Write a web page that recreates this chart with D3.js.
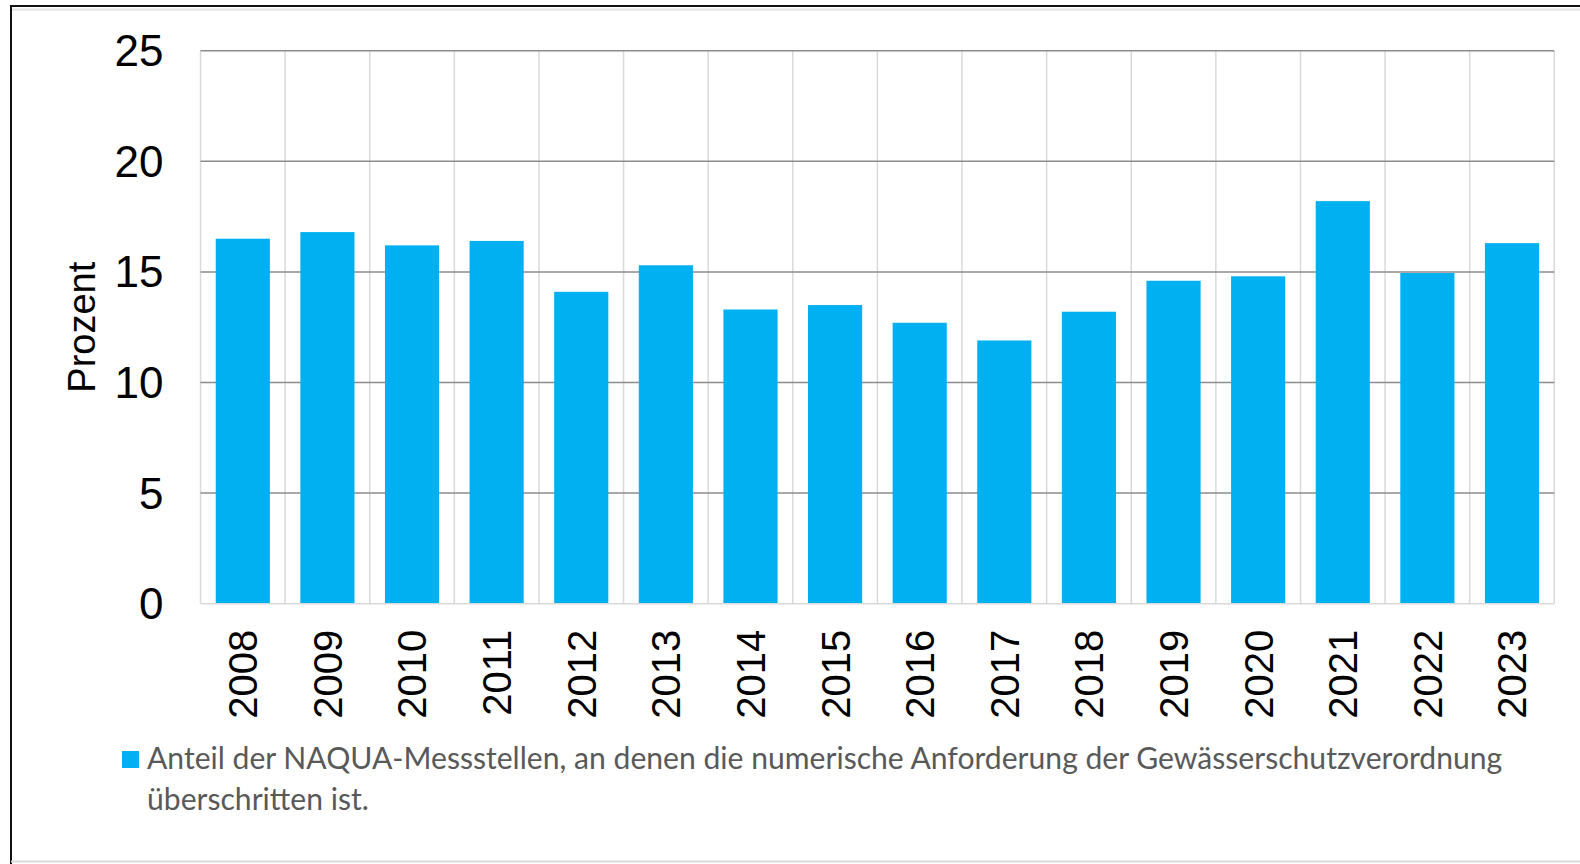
<!DOCTYPE html>
<html>
<head>
<meta charset="utf-8">
<script src="https://cdn.jsdelivr.net/npm/d3@7"></script>
<style>
  body { margin: 0; background: #fff; }
  svg { display: block; }
</style>
</head>
<body>
<svg width="1580" height="864"></svg>
<script>
(function (d3) {
    'use strict';

    // data (percent of NAQUA sites above the limit)
    const years = ['2008', '2009', '2010', '2011', '2012', '2013', '2014', '2015',
                   '2016', '2017', '2018', '2019', '2020', '2021', '2022', '2023'];
    const shares = [16.5, 16.8, 16.2, 16.4, 14.1, 15.3, 13.3, 13.5,
                    12.7, 11.9, 13.2, 14.6, 14.8, 18.2, 14.95, 16.3];
    const yTicks = [0, 5, 10, 15, 20, 25];
    const yAxisTitle = 'Prozent';
    const legendLines = [
        'Anteil der NAQUA-Messstellen, an denen die numerische Anforderung der Gewässerschutzverordnung',
        'überschritten ist.'
    ];

    const svg = d3.select('svg');
    const barColor = '#00b0f0';
    const numFont = '"Liberation Sans", Arial, sans-serif';

    const plot = { left: 200.5, right: 1554.3, top: 50.7, bottom: 603.7 };

    const xScale = d3.scaleBand()
        .domain(years)
        .range([plot.left, plot.right])
        .paddingInner(0.36)
        .paddingOuter(0.18);

    const yScale = d3.scaleLinear()
        .domain([0, 25])
        .range([plot.bottom, plot.top]);

    // screenshot frame
    svg.append('line').attr('x1', 11).attr('x2', 1580).attr('y1', 6).attr('y2', 6)
        .attr('stroke', '#111').attr('stroke-width', 2);
    svg.append('line').attr('x1', 11).attr('x2', 1580).attr('y1', 9.5).attr('y2', 9.5)
        .attr('stroke', '#e2e2e2').attr('stroke-width', 2);
    svg.append('line').attr('x1', 11).attr('x2', 11).attr('y1', 5).attr('y2', 864)
        .attr('stroke', '#111').attr('stroke-width', 2);
    svg.append('line').attr('x1', 11).attr('x2', 1580).attr('y1', 861.5).attr('y2', 861.5)
        .attr('stroke', '#d9d9d9').attr('stroke-width', 2);

    // vertical category separators
    const halfGap = (xScale.step() - xScale.bandwidth()) / 2;
    const bounds = years.map(y => xScale(y) - halfGap).concat([plot.right]);
    svg.append('g').selectAll('line').data(bounds)
        .enter().append('line')
        .attr('x1', d => d).attr('x2', d => d)
        .attr('y1', plot.top).attr('y2', plot.bottom)
        .attr('stroke', '#d9d9d9').attr('stroke-width', 1.5);

    // horizontal gridlines
    svg.append('g').selectAll('line').data(yTicks.filter(t => t > 0))
        .enter().append('line')
        .attr('x1', plot.left).attr('x2', plot.right)
        .attr('y1', d => yScale(d)).attr('y2', d => yScale(d))
        .attr('stroke', '#8c8c8c').attr('stroke-width', 1.5);

    // bars
    svg.append('g').selectAll('rect').data(shares)
        .enter().append('rect')
        .attr('x', (d, i) => xScale(years[i]))
        .attr('y', d => yScale(d))
        .attr('width', xScale.bandwidth())
        .attr('height', d => yScale(0) - yScale(d))
        .attr('fill', barColor);

    // baseline
    svg.append('line')
        .attr('x1', plot.left).attr('x2', plot.right)
        .attr('y1', yScale(0)).attr('y2', yScale(0))
        .attr('stroke', '#d9d9d9').attr('stroke-width', 1.5);

    // y axis
    const yAxis = d3.axisLeft(yScale).tickValues(yTicks).tickSize(0).tickPadding(37);
    const yG = svg.append('g')
        .attr('transform', `translate(${plot.left},0)`)
        .call(yAxis);
    yG.select('.domain').remove();
    yG.selectAll('text')
        .attr('font-family', numFont)
        .attr('font-size', 44)
        .attr('fill', '#000')
        .attr('dy', '0.34em');

    // x axis
    const xAxis = d3.axisBottom(xScale).tickSize(0);
    const xG = svg.append('g')
        .attr('transform', `translate(0,${plot.bottom})`)
        .call(xAxis);
    xG.select('.domain').remove();
    xG.selectAll('text')
        .attr('font-family', numFont)
        .attr('font-size', 40)
        .attr('fill', '#000')
        .attr('transform', 'rotate(-90)')
        .attr('text-anchor', 'end')
        .attr('x', -26)
        .attr('y', 0)
        .attr('dy', '0.36em');

    // y axis title
    svg.append('text')
        .attr('transform', `translate(95,${(plot.top + plot.bottom) / 2}) rotate(-90)`)
        .attr('text-anchor', 'middle')
        .attr('font-family', numFont)
        .attr('font-size', 38)
        .attr('fill', '#000')
        .text(yAxisTitle);

    // legend
    const legend = svg.append('g');
    legend.append('rect')
        .attr('x', 122).attr('y', 751)
        .attr('width', 17).attr('height', 17)
        .attr('fill', barColor);
    const legendText = legend.selectAll('text').data(legendLines)
        .enter().append('text')
        .attr('x', 147)
        .attr('y', (d, i) => 769 + i * 41)
        .attr('font-family', 'Lato, "Open Sans", sans-serif')
        .attr('font-size', 26)
        .attr('fill', '#595959')
        .text(d => d);

    // fit first line to the width it takes in the original
    const w = legendText.node().getComputedTextLength();
    legendText.attr('font-size', 26 * 1356 / w);
}(d3));
</script>
</body>
</html>
